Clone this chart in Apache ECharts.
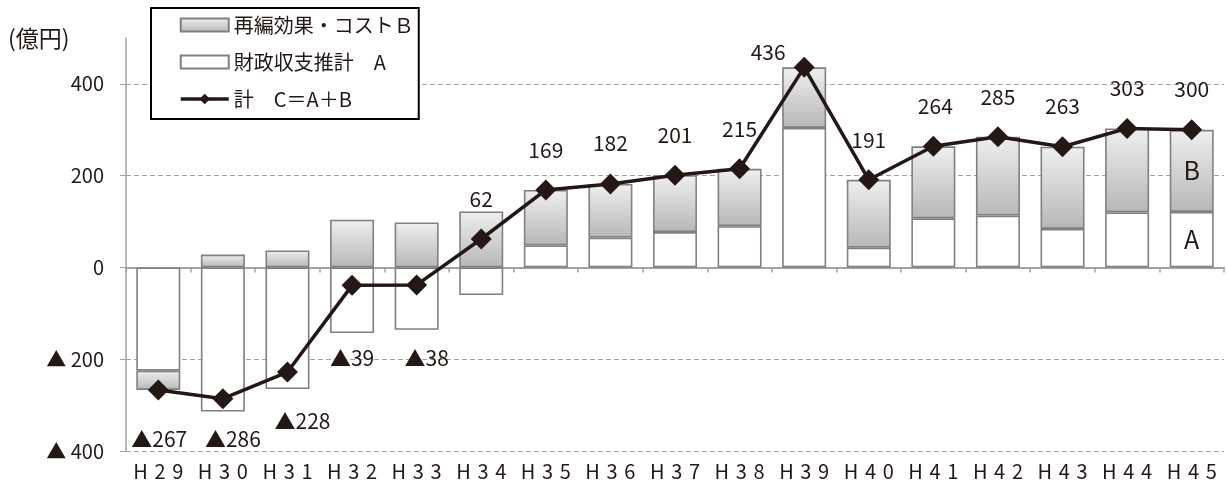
<!DOCTYPE html>
<html>
<head>
<meta charset="utf-8">
<script src="https://cdn.jsdelivr.net/npm/echarts@6/dist/echarts.min.js"></script>
<style>
  html, body { margin: 0; padding: 0; background: #fff; }
  #chart { width: 1226px; height: 492px; }
</style>
</head>
<body>
<div id="chart"></div>
<script>
// 年度
const categories = ["H29", "H30", "H31", "H32", "H33", "H34", "H35", "H36", "H37",
  "H38", "H39", "H40", "H41", "H42", "H43", "H44", "H45"];
// 財政収支推計 A
const valuesA = [-225, -314, -265, -143, -136, -60, 48, 65, 77, 90, 304, 43, 107, 113, 84, 120, 121];
// 再編効果・コスト B
const valuesB = [-42, 28, 37, 104, 98, 122, 121, 117, 124, 125, 132, 148, 157, 172, 179, 183, 179];
// 計 C = A + B
const valuesC = [-267, -286, -228, -39, -38, 62, 169, 182, 201, 215, 436, 191, 264, 285, 263, 303, 300];
const yTicks = [-400, -200, 0, 200, 400];

// ラベルのずらし量 (px)
const labelShift = [[1, 49], [10, 40], [15, 49], [0, 73], [10, 73], [0, -40], [0, -40], [0, -41],
  [0, -40], [0, -40], [-36, -15], [0, -40], [2, -40], [0, -40], [0, -41], [0, -40], [0, -41]];

const ink = "#231815";
const font = "'Noto Sans CJK JP', 'Noto Sans', sans-serif";
const last = categories.length - 1;

const nameA = "財政収支推計　A";
const nameB = "再編効果・コストＢ";
const nameC = "計　C＝A＋B";

const chart = echarts.init(document.getElementById("chart"));

const grayFill = new echarts.graphic.LinearGradient(0, 0, 0, 1, [
  { offset: 0, color: "#efefef" },
  { offset: 1, color: "#b7b7b7" }
]);

const insideLabel = (txt) => ({
  show: true,
  position: "inside",
  formatter: txt,
  fontSize: 25,
  fontFamily: font,
  color: ink
});

chart.setOption({
  animation: false,
  textStyle: { fontFamily: font, color: ink },
  graphic: [
    {
      type: "text",
      left: 8,
      top: 27,
      style: { text: "(億円)", font: "23px " + font, fill: ink }
    }
  ],
  legend: {
    left: 151,
    top: 8,
    orient: "vertical",
    backgroundColor: "#fff",
    borderColor: "#000",
    borderWidth: 2,
    padding: [7, 5, 10, 28],
    itemWidth: 48,
    itemHeight: 13,
    itemGap: 17,
    textStyle: { fontSize: 20, lineHeight: 20, color: ink, fontFamily: font },
    data: [
      { name: nameB, icon: "rect" },
      { name: nameA, icon: "rect" },
      { name: nameC, lineStyle: { width: 3.5 } }
    ]
  },
  grid: { left: 126, right: 2, top: 38, bottom: 41 },
  xAxis: [
    {
      type: "category",
      data: categories,
      axisLine: { onZero: true, lineStyle: { color: "#a3a3a3", width: 2 } },
      axisTick: { show: true, length: 5, lineStyle: { color: "#a3a3a3", width: 1.5 } },
      axisLabel: { show: false },
      splitLine: { show: false }
    },
    {
      type: "category",
      data: categories,
      position: "bottom",
      axisLine: { show: false, onZero: false },
      axisTick: { show: false },
      axisLabel: {
        interval: 0,
        margin: 10,
        fontSize: 20,
        color: ink,
        fontFamily: font,
        formatter: (v) => v.split("").join("\u2004")
      }
    }
  ],
  yAxis: {
    type: "value",
    min: -400,
    max: 500,
    interval: 200,
    axisLine: { show: true, lineStyle: { color: "#a3a3a3", width: 1.5 } },
    axisTick: { show: true, length: 6, customValues: yTicks, lineStyle: { color: "#a3a3a3" } },
    axisLabel: {
      margin: 22,
      fontSize: 20,
      color: ink,
      fontFamily: font,
      customValues: yTicks,
      formatter: (v) => (v < 0 ? "▲ " + (-v) : String(v))
    },
    splitLine: {
      show: true,
      lineStyle: { color: "#a3a3a3", type: [5, 3], width: 1.2 }
    }
  },
  series: [
    {
      name: nameA,
      type: "bar",
      stack: "total",
      barWidth: 44,
      itemStyle: { color: "#fff", borderColor: "#808080", borderWidth: 1.6 },
      data: valuesA.map((v, i) => (i === last ? { value: v, label: insideLabel("A") } : v))
    },
    {
      name: nameB,
      type: "bar",
      stack: "total",
      barWidth: 44,
      itemStyle: { color: grayFill, borderColor: "#808080", borderWidth: 1.6 },
      data: valuesB.map((v, i) => (i === last ? { value: v, label: insideLabel("B") } : v))
    },
    {
      name: nameC,
      type: "line",
      z: 5,
      symbol: "diamond",
      symbolSize: 21,
      itemStyle: { color: ink },
      lineStyle: { color: ink, width: 3.5 },
      label: {
        show: true,
        position: "inside",
        fontSize: 21,
        fontFamily: font,
        color: ink,
        formatter: (p) => (p.value < 0 ? "▲" + (-p.value) : String(p.value))
      },
      data: valuesC.map((v, i) => ({ value: v, label: { offset: labelShift[i] } }))
    }
  ]
});
</script>
</body>
</html>
